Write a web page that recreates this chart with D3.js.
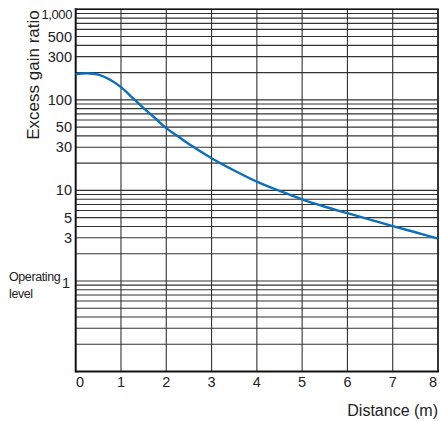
<!DOCTYPE html>
<html><head><meta charset="utf-8">
<script src="https://cdn.jsdelivr.net/npm/d3@7"></script>
<style>body{margin:0;background:#fff}svg{display:block}text{font-family:"Liberation Sans",Arial,sans-serif;fill:#222}</style>
</head><body>
<script>
// Data
const distance = [0, 0.25, 0.5, 0.75, 1, 1.25, 1.5, 1.75, 2, 2.25, 2.5, 3, 3.5, 4, 4.5, 5, 5.5, 6, 6.5, 7, 7.5, 8];
const gain     = [192, 197, 190, 168, 138, 106, 81, 63, 48.7, 39.8, 32.5, 22.7, 16.6, 12.5, 9.9, 7.95, 6.6, 5.6, 4.75, 4.03, 3.45, 2.94];
const xTicks = [0,1,2,3,4,5,6,7,8];
const yTickValues = [1000, 500, 300, 100, 50, 30, 10, 5, 3, 1];
const yTickLabels = ["1,000", "500", "300", "100", "50", "30", "10", "5", "3", "1"];

const W = 441, H = 421;
const m = {left: 75.7, right: 3, top: 9.3, bottom: 49.5};
const svg = d3.select("body").append("svg").attr("width", W).attr("height", H);
const x = d3.scaleLinear().domain([0, 8]).range([m.left, W - m.right]);
const y = d3.scaleLog().domain([0.1, 1000]).range([H - m.bottom, m.top]);

// log grid lines
const gridVals = [];
for (let e = -1; e < 3; e++) for (let k = 1; k < 10; k++) gridVals.push(k * Math.pow(10, e));
gridVals.push(1000);
const g = svg.append("g");
g.selectAll("line.h").data(gridVals.filter(v => v > 0.1)).enter().append("line")
  .attr("x1", x(0)).attr("x2", x(8)).attr("y1", d => y(d)).attr("y2", d => y(d))
  .attr("stroke", "#333").attr("stroke-width", 1.1);
g.selectAll("line.v").data(xTicks.slice(1)).enter().append("line")
  .attr("x1", d => x(d)).attr("x2", d => x(d)).attr("y1", y(1000)).attr("y2", y(0.1))
  .attr("stroke", "#333").attr("stroke-width", 1.1);

// frame
svg.append("line").attr("x1", x(0)).attr("x2", x(0)).attr("y1", y(1000)-1).attr("y2", y(0.1)+1).attr("stroke", "#111").attr("stroke-width", 2);
svg.append("line").attr("x1", x(0)).attr("x2", x(8)+1).attr("y1", y(0.1)).attr("y2", y(0.1)).attr("stroke", "#111").attr("stroke-width", 2);
svg.append("line").attr("x1", x(0)).attr("x2", x(8)+1).attr("y1", y(1000)).attr("y2", y(1000)).attr("stroke", "#111").attr("stroke-width", 1.6);
svg.append("line").attr("x1", x(8)).attr("x2", x(8)).attr("y1", y(1000)).attr("y2", y(0.1)).attr("stroke", "#111").attr("stroke-width", 1.4);

// y tick labels
svg.selectAll("text.yt").data(yTickValues).enter().append("text")
  .attr("x", (d) => d === 1 ? 70 : 72).attr("y", (d) => y(d) + (d === 1000 ? 5.5 : 0) + (d === 1 ? 2 : 0))
  .attr("dy", "0.35em").attr("text-anchor", "end")
  .style("font-size", (d) => d === 1000 ? "13px" : "14.5px")
  .style("letter-spacing", (d) => d === 1000 ? "-0.4px" : "0px")
  .text((d, i) => yTickLabels[i]);

// x tick labels
svg.selectAll("text.xt").data(xTicks).enter().append("text")
  .attr("x", d => x(d) + (d === 0 ? 4.3 : d === 8 ? -5 : 0)).attr("y", 382).attr("dy", "0.35em")
  .attr("text-anchor", "middle").style("font-size", "14.5px").text(d => d);

// axis titles
svg.append("text").attr("transform", "translate(39,75) rotate(-90)").attr("text-anchor", "middle")
  .style("font-size", "17px").text("Excess gain ratio");
svg.append("text").attr("x", 438).attr("y", 415.5).attr("text-anchor", "end")
  .style("font-size", "16px").text("Distance (m)");
svg.append("text").attr("x", 9).attr("y", 281).style("font-size", "12.5px").style("letter-spacing", "-0.4px").text("Operating");
svg.append("text").attr("x", 9).attr("y", 298).style("font-size", "12.5px").style("letter-spacing", "-0.4px").text("level");

// curve
const line = d3.line().x((d, i) => x(distance[i])).y(d => y(d)).curve(d3.curveCatmullRom.alpha(0.5));
svg.append("path").datum(gain).attr("d", line).attr("fill", "none")
  .attr("stroke", "#0a6fbd").attr("stroke-width", 2.4);
</script>
</body></html>
